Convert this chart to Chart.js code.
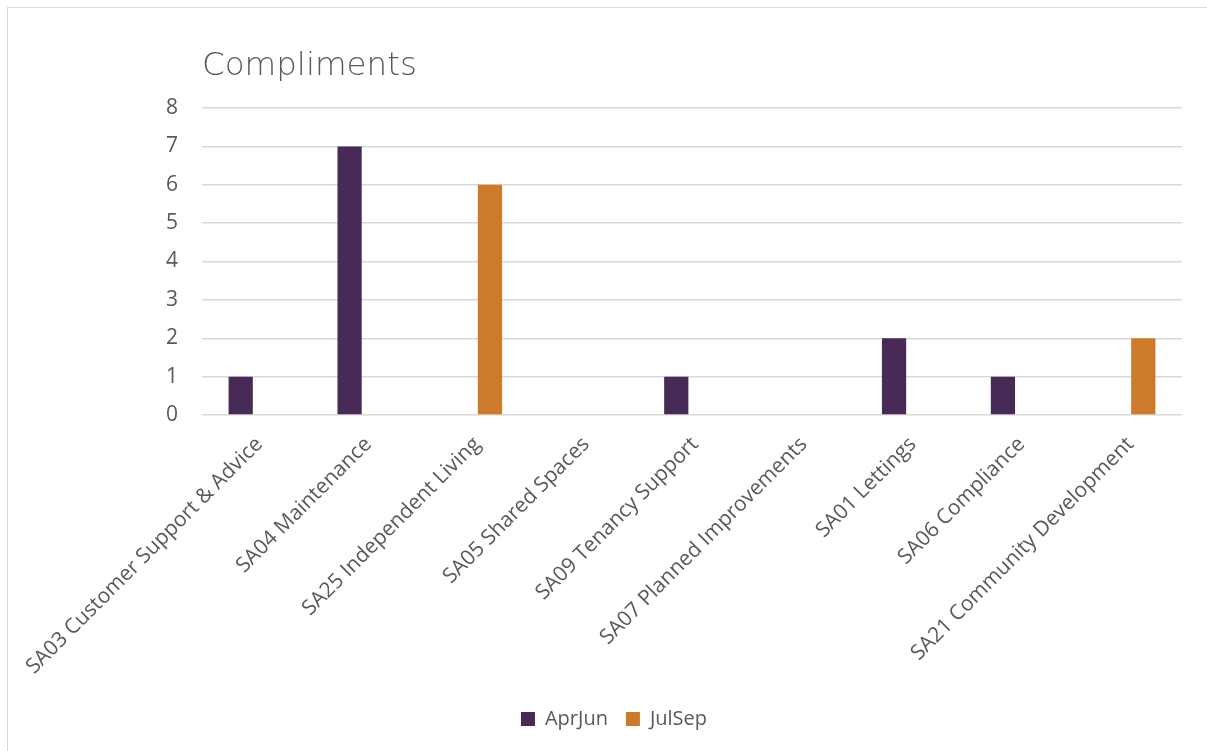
<!DOCTYPE html>
<html>
<head>
<meta charset="utf-8">
<script src="https://cdn.jsdelivr.net/npm/chart.js@4"></script>
<style>
  html, body { margin: 0; padding: 0; background: #fff; overflow: hidden; width: 1207px; height: 751px; }
  #wrap { position: absolute; left: 7px; top: 7px; width: 1214px; height: 760px; border: 1px solid #d9d9d9; box-sizing: border-box; background: #fff; }
</style>
</head>
<body>
<div id="wrap"><canvas id="c"></canvas></div>
<script>
const chartTitle = 'Compliments';
const categories = [
  'SA03 Customer Support & Advice',
  'SA04 Maintenance',
  'SA25 Independent Living',
  'SA05 Shared Spaces',
  'SA09 Tenancy Support',
  'SA07 Planned Improvements',
  'SA01 Lettings',
  'SA06 Compliance',
  'SA21 Community Development'
];
const seriesNames = ['AprJun', 'JulSep'];
const aprJun = [1, 7, 0, 0, 1, 0, 2, 1, 0];
const julSep = [0, 0, 6, 0, 0, 0, 0, 0, 2];
const yMin = 0, yMax = 8, yStep = 1;

const textColor = '#595959';
const gridColor = '#d9d9d9';

new Chart(document.getElementById('c'), {
  type: 'bar',
  data: {
    labels: categories,
    datasets: [
      { label: seriesNames[0], data: aprJun, backgroundColor: '#472b56', borderWidth: 0,
        categoryPercentage: 0.578, barPercentage: 0.77 },
      { label: seriesNames[1], data: julSep, backgroundColor: '#cd7a2b', borderWidth: 0,
        categoryPercentage: 0.578, barPercentage: 0.77 }
    ]
  },
  options: {
    responsive: true,
    maintainAspectRatio: false,
    animation: false,
    layout: { padding: { left: 0, right: 0, top: 39, bottom: 27 } },
    plugins: {
      title: {
        display: true, text: chartTitle, align: 'start', fullSize: false,
        color: textColor,
        font: { family: 'DejaVu Sans', size: 32.5, weight: '200' },
        padding: { top: 0, bottom: 22 }
      },
      legend: {
        display: true, position: 'bottom',
        labels: {
          color: textColor,
          font: { family: 'Open Sans', size: 20 },
          boxWidth: 14, boxHeight: 14, padding: 18
        }
      },
      tooltip: { enabled: false }
    },
    scales: {
      x: {
        grid: { display: false },
        border: { display: false },
        ticks: {
          color: textColor,
          font: { family: 'Open Sans', size: 21 },
          maxRotation: 45, minRotation: 45,
          autoSkip: false,
          labelOffset: 3,
          padding: 9
        },
        afterFit: (scale) => { scale.height = 276; scale.paddingLeft = 0; scale.paddingRight = 38; }
      },
      y: {
        min: yMin, max: yMax,
        grid: { color: gridColor, lineWidth: 1.5, drawTicks: false },
        border: { display: false },
        ticks: {
          stepSize: yStep,
          color: textColor,
          font: { family: 'Open Sans', size: 21 },
          padding: 24
        },
        afterFit: (scale) => { scale.width = 194; }
      }
    }
  }
});
</script>
</body>
</html>
